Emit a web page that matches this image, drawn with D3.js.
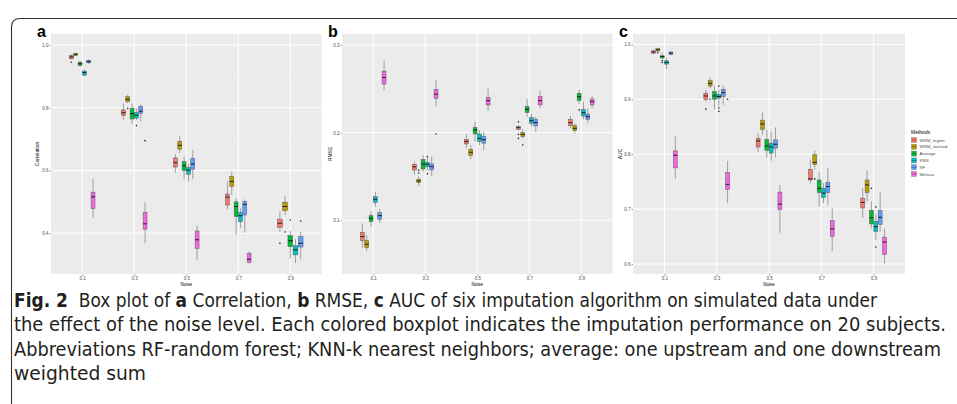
<!DOCTYPE html>
<html>
<head>
<meta charset="utf-8">
<script src="https://cdn.jsdelivr.net/npm/d3@7"></script>
<style>
  body { margin: 0; background: #fff; }
  svg { display: block; }
  .tick-lab { font-family: "Liberation Sans", Arial, sans-serif; font-size: 4.5px; fill: #4d4d4d; }
  .ax-title { font-family: "Liberation Sans", Arial, sans-serif; font-size: 5px; fill: #000; }
  .panel-lab { font-family: "Liberation Sans", Arial, sans-serif; font-size: 16px; font-weight: bold; fill: #000; }
  .caption { font-family: "DejaVu Sans", "Liberation Sans", sans-serif; font-stretch: condensed; font-size: 19px; fill: #231f20; }
</style>
</head>
<body>
<svg id="chart" width="957" height="404"></svg>
<script>
const methods = ["WRM_region", "WRM_stacked", "Average", "KNN", "RF", "Melissa"];
const colors = ["#F8766D", "#B79F00", "#00BA38", "#00BFC4", "#619CFF", "#F564E3"];
const noiseLevels = ["0.1", "0.3", "0.5", "0.7", "0.9"];

// noise, method index, whisker low, q1, median, q3, whisker high
const corrBoxes = [
  ["0.1", 0, 0.954, 0.956, 0.962, 0.967, 0.969],
  ["0.1", 1, 0.965, 0.967, 0.970, 0.973, 0.976],
  ["0.1", 2, 0.930, 0.935, 0.940, 0.945, 0.950],
  ["0.1", 3, 0.900, 0.904, 0.912, 0.917, 0.922],
  ["0.1", 4, 0.939, 0.943, 0.947, 0.951, 0.954],
  ["0.1", 5, 0.449, 0.478, 0.516, 0.531, 0.573],
  ["0.3", 0, 0.761, 0.775, 0.784, 0.793, 0.814],
  ["0.3", 1, 0.814, 0.819, 0.827, 0.835, 0.841],
  ["0.3", 2, 0.748, 0.764, 0.781, 0.798, 0.814],
  ["0.3", 3, 0.761, 0.767, 0.776, 0.785, 0.798],
  ["0.3", 4, 0.756, 0.782, 0.789, 0.804, 0.812],
  ["0.3", 5, 0.368, 0.413, 0.430, 0.467, 0.498],
  ["0.5", 0, 0.593, 0.611, 0.625, 0.640, 0.652],
  ["0.5", 1, 0.655, 0.668, 0.680, 0.693, 0.710],
  ["0.5", 2, 0.572, 0.600, 0.615, 0.628, 0.644],
  ["0.5", 3, 0.565, 0.588, 0.601, 0.609, 0.621],
  ["0.5", 4, 0.572, 0.604, 0.621, 0.639, 0.665],
  ["0.5", 5, 0.315, 0.352, 0.379, 0.407, 0.424],
  ["0.7", 0, 0.476, 0.490, 0.515, 0.525, 0.565],
  ["0.7", 1, 0.522, 0.549, 0.565, 0.581, 0.596],
  ["0.7", 2, 0.395, 0.453, 0.485, 0.500, 0.512],
  ["0.7", 3, 0.416, 0.437, 0.456, 0.466, 0.480],
  ["0.7", 4, 0.402, 0.458, 0.492, 0.501, 0.508],
  ["0.7", 5, 0.304, 0.307, 0.317, 0.336, 0.342],
  ["0.9", 0, 0.405, 0.419, 0.432, 0.445, 0.469],
  ["0.9", 1, 0.458, 0.472, 0.485, 0.499, 0.519],
  ["0.9", 2, 0.320, 0.357, 0.376, 0.392, 0.407],
  ["0.9", 3, 0.305, 0.331, 0.347, 0.360, 0.381],
  ["0.9", 4, 0.317, 0.356, 0.368, 0.389, 0.405]
];
const corrOutliers = [
  ["0.1", 0, 0.945], ["0.3", 1, 0.798], ["0.3", 3, 0.743], ["0.3", 5, 0.695],
  ["0.9", 0, 0.368], ["0.9", 1, 0.404], ["0.9", 2, 0.442], ["0.9", 4, 0.439]
];

const rmseBoxes = [
  ["0.1", 0, 0.0688, 0.0768, 0.0814, 0.0863, 0.0966],
  ["0.1", 1, 0.0650, 0.0688, 0.0726, 0.0768, 0.0833],
  ["0.1", 2, 0.0928, 0.0985, 0.1023, 0.1053, 0.1100],
  ["0.1", 3, 0.1156, 0.1205, 0.1240, 0.1270, 0.1327],
  ["0.1", 4, 0.0973, 0.1010, 0.1053, 0.1087, 0.1125],
  ["0.1", 5, 0.2480, 0.2555, 0.2630, 0.2703, 0.2820],
  ["0.3", 0, 0.1520, 0.1574, 0.1610, 0.1639, 0.1670],
  ["0.3", 1, 0.1390, 0.1430, 0.1449, 0.1468, 0.1500],
  ["0.3", 2, 0.1555, 0.1586, 0.1643, 0.1696, 0.1745],
  ["0.3", 3, 0.1570, 0.1610, 0.1640, 0.1660, 0.1710],
  ["0.3", 4, 0.1500, 0.1574, 0.1612, 0.1643, 0.1726],
  ["0.3", 5, 0.2300, 0.2392, 0.2440, 0.2494, 0.2600],
  ["0.5", 0, 0.1820, 0.1871, 0.1900, 0.1924, 0.1985],
  ["0.5", 1, 0.1696, 0.1738, 0.1776, 0.1810, 0.1860],
  ["0.5", 2, 0.1900, 0.1985, 0.2030, 0.2060, 0.2125],
  ["0.5", 3, 0.1860, 0.1900, 0.1935, 0.1985, 0.2030],
  ["0.5", 4, 0.1800, 0.1880, 0.1920, 0.1960, 0.2010],
  ["0.5", 5, 0.2250, 0.2316, 0.2365, 0.2400, 0.2506],
  ["0.7", 0, 0.2030, 0.2038, 0.2057, 0.2068, 0.2087],
  ["0.7", 1, 0.1935, 0.1954, 0.1980, 0.2000, 0.2038],
  ["0.7", 2, 0.2180, 0.2228, 0.2266, 0.2297, 0.2384],
  ["0.7", 3, 0.2068, 0.2106, 0.2137, 0.2171, 0.2213],
  ["0.7", 4, 0.2011, 0.2076, 0.2114, 0.2152, 0.2180],
  ["0.7", 5, 0.2278, 0.2316, 0.2365, 0.2411, 0.2480],
  ["0.9", 0, 0.2050, 0.2080, 0.2114, 0.2152, 0.2194],
  ["0.9", 1, 0.1992, 0.2023, 0.2050, 0.2080, 0.2106],
  ["0.9", 2, 0.2327, 0.2365, 0.2410, 0.2449, 0.2487],
  ["0.9", 3, 0.2152, 0.2190, 0.2228, 0.2266, 0.2354],
  ["0.9", 4, 0.2106, 0.2152, 0.2182, 0.2213, 0.2278],
  ["0.9", 5, 0.2278, 0.2316, 0.2354, 0.2384, 0.2418]
];
const rmseOutliers = [
  ["0.3", 1, 0.157], ["0.3", 1, 0.154], ["0.3", 3, 0.1726], ["0.3", 3, 0.153], ["0.3", 5, 0.1985],
  ["0.7", 0, 0.2125], ["0.7", 0, 0.198], ["0.7", 0, 0.1935], ["0.7", 1, 0.186],
  ["0.9", 2, 0.226]
];

const aucBoxes = [
  ["0.1", 0, 0.982, 0.984, 0.986, 0.988, 0.991],
  ["0.1", 1, 0.987, 0.988, 0.990, 0.992, 0.994],
  ["0.1", 2, 0.973, 0.975, 0.978, 0.979, 0.985],
  ["0.1", 3, 0.955, 0.964, 0.967, 0.970, 0.975],
  ["0.1", 4, 0.980, 0.982, 0.984, 0.986, 0.988],
  ["0.1", 5, 0.755, 0.775, 0.798, 0.806, 0.833],
  ["0.3", 0, 0.896, 0.900, 0.906, 0.911, 0.917],
  ["0.3", 1, 0.920, 0.924, 0.929, 0.934, 0.940],
  ["0.3", 2, 0.882, 0.900, 0.906, 0.914, 0.924],
  ["0.3", 3, 0.888, 0.902, 0.905, 0.909, 0.917],
  ["0.3", 4, 0.890, 0.905, 0.912, 0.918, 0.925],
  ["0.3", 5, 0.711, 0.736, 0.745, 0.767, 0.788],
  ["0.5", 0, 0.804, 0.813, 0.824, 0.829, 0.839],
  ["0.5", 1, 0.835, 0.845, 0.855, 0.862, 0.876],
  ["0.5", 2, 0.794, 0.807, 0.815, 0.827, 0.844],
  ["0.5", 3, 0.788, 0.802, 0.813, 0.820, 0.841],
  ["0.5", 4, 0.794, 0.811, 0.818, 0.826, 0.849],
  ["0.5", 5, 0.656, 0.699, 0.709, 0.731, 0.744],
  ["0.7", 0, 0.747, 0.753, 0.755, 0.772, 0.790],
  ["0.7", 1, 0.772, 0.781, 0.785, 0.799, 0.807],
  ["0.7", 2, 0.705, 0.730, 0.738, 0.753, 0.768],
  ["0.7", 3, 0.711, 0.721, 0.729, 0.738, 0.747],
  ["0.7", 4, 0.708, 0.730, 0.741, 0.749, 0.775],
  ["0.7", 5, 0.623, 0.650, 0.664, 0.679, 0.702],
  ["0.9", 0, 0.684, 0.702, 0.712, 0.720, 0.738],
  ["0.9", 1, 0.714, 0.730, 0.744, 0.753, 0.770],
  ["0.9", 2, 0.665, 0.673, 0.684, 0.698, 0.714],
  ["0.9", 3, 0.644, 0.659, 0.668, 0.678, 0.690],
  ["0.9", 4, 0.659, 0.672, 0.685, 0.697, 0.730],
  ["0.9", 5, 0.601, 0.617, 0.640, 0.649, 0.665]
];
const aucOutliers = [
  ["0.1", 1, 0.985], ["0.1", 2, 0.970], ["0.1", 2, 0.967],
  ["0.3", 0, 0.882], ["0.3", 1, 0.900], ["0.3", 3, 0.924], ["0.3", 3, 0.884], ["0.3", 3, 0.878], ["0.3", 5, 0.900],
  ["0.7", 1, 0.755], ["0.9", 2, 0.738], ["0.9", 3, 0.704], ["0.9", 3, 0.631]
];

const corrTicks = [0.4, 0.6, 0.8, 1.0];
const rmseTicks = [0.1, 0.2, 0.3];
const aucTicks = [0.6, 0.7, 0.8, 0.9, 1.0];

const captionLines = [
  [["Fig. 2", true], ["  Box plot of ", false], ["a", true], [" Correlation, ", false], ["b", true], [" RMSE, ", false], ["c", true], [" AUC of six imputation algorithm on simulated data under", false]],
  [["the effect of the noise level. Each colored boxplot indicates the imputation performance on 20 subjects.", false]],
  [["Abbreviations RF-random forest; KNN-k nearest neighbors; average: one upstream and one downstream", false]],
  [["weighted sum", false]]
];

const svg = d3.select("#chart");
svg.append("rect").attr("width", 957).attr("height", 404).attr("fill", "#fff");

// figure frame (open to the right and bottom)
svg.append("path")
  .attr("d", "M11.5,404 L11.5,27 Q11.5,18.5 20,18.5 L957,18.5")
  .attr("fill", "none").attr("stroke", "#333").attr("stroke-width", 1.1);

const plotTop = 34, plotBottom = 274;

const panels = [
  { label: "a", title: "Correlation", left: 51, right: 321.5, domain: [0.270, 1.035], ticks: corrTicks, boxes: corrBoxes, outliers: corrOutliers, titleDx: 12 },
  { label: "b", title: "RMSE", left: 342, right: 612.5, domain: [0.0387, 0.3126], ticks: rmseTicks, boxes: rmseBoxes, outliers: rmseOutliers, titleDx: 10.5 },
  { label: "c", title: "AUC", left: 633, right: 905, domain: [0.5818, 1.0188], ticks: aucTicks, boxes: aucBoxes, outliers: aucOutliers, titleDx: 11.5 }
];

panels.forEach(p => {
  const g = svg.append("g");
  const x = d3.scalePoint().domain(noiseLevels).range([p.left, p.right]).padding(0.6);
  const y = d3.scaleLinear().domain(p.domain).range([plotBottom, plotTop]);
  const step = x.step();

  g.append("rect")
    .attr("x", p.left).attr("y", plotTop)
    .attr("width", p.right - p.left).attr("height", plotBottom - plotTop)
    .attr("fill", "#ebebeb");

  // minor grid halfway between major ticks
  const tStep = p.ticks[1] - p.ticks[0];
  const minor = d3.range(p.ticks[0] - tStep / 2, p.domain[1], tStep).filter(v => v > p.domain[0]);
  g.selectAll(".minor").data(minor).enter().append("line")
    .attr("x1", p.left).attr("x2", p.right)
    .attr("y1", d => y(d)).attr("y2", d => y(d))
    .attr("stroke", "#f5f5f5").attr("stroke-width", 0.5);
  g.selectAll(".major").data(p.ticks).enter().append("line")
    .attr("x1", p.left).attr("x2", p.right)
    .attr("y1", d => y(d)).attr("y2", d => y(d))
    .attr("stroke", "#fff").attr("stroke-width", 1);
  g.selectAll(".vgrid").data(noiseLevels).enter().append("line")
    .attr("x1", d => x(d)).attr("x2", d => x(d))
    .attr("y1", plotTop).attr("y2", plotBottom)
    .attr("stroke", "#fff").attr("stroke-width", 1);

  // y axis
  const yAxis = d3.axisLeft(y).tickValues(p.ticks).tickFormat(d3.format(".1f")).tickSize(1.5).tickPadding(1);
  const ya = g.append("g").attr("transform", `translate(${p.left},0)`).call(yAxis);
  ya.select(".domain").remove();
  ya.selectAll("line").attr("stroke", "#333").attr("stroke-width", 0.5);
  ya.selectAll("text").attr("class", "tick-lab");
  ya.attr("font-size", null).attr("font-family", null);

  // x axis
  const xAxis = d3.axisBottom(x).tickSize(1.5).tickPadding(1);
  const xa = g.append("g").attr("transform", `translate(0,${plotBottom})`).call(xAxis);
  xa.select(".domain").remove();
  xa.selectAll("line").attr("stroke", "#333").attr("stroke-width", 0.5);
  xa.selectAll("text").attr("class", "tick-lab");
  xa.attr("font-size", null).attr("font-family", null);

  g.append("text").attr("class", "ax-title")
    .attr("x", (p.left + p.right) / 2).attr("y", plotBottom + 12.3)
    .attr("text-anchor", "middle").style("font-size", "4.5px").text("Noise");
  g.append("text").attr("class", "ax-title")
    .attr("transform", `translate(${p.left - p.titleDx},${(plotTop + plotBottom) / 2}) rotate(-90)`)
    .attr("text-anchor", "middle").text(p.title);
  g.append("text").attr("class", "panel-lab")
    .attr("x", p.left - 14).attr("y", 37).text(p.label);

  // dodge position within a noise group
  const groupCount = {};
  p.boxes.forEach(b => { groupCount[b[0]] = (groupCount[b[0]] || []).concat(b[1]); });
  const xPos = (noise, m) => {
    const list = groupCount[noise];
    const n = list.length;
    const slot = step * 0.5 / n;
    const i = list.indexOf(m);
    return { cx: x(noise) + (i - (n - 1) / 2) * slot, w: slot * 0.9 };
  };

  const bx = g.selectAll(".box").data(p.boxes).enter().append("g");
  bx.append("line")
    .attr("x1", d => xPos(d[0], d[1]).cx).attr("x2", d => xPos(d[0], d[1]).cx)
    .attr("y1", d => y(d[2])).attr("y2", d => y(d[6]))
    .attr("stroke", "#8c8c8c").attr("stroke-width", 0.8);
  bx.append("rect")
    .attr("x", d => xPos(d[0], d[1]).cx - xPos(d[0], d[1]).w / 2)
    .attr("width", d => xPos(d[0], d[1]).w)
    .attr("y", d => y(d[5]))
    .attr("height", d => y(d[3]) - y(d[5]))
    .attr("fill", d => colors[d[1]])
    .attr("stroke", "#5a5a5a").attr("stroke-width", 0.5);
  bx.append("line")
    .attr("x1", d => xPos(d[0], d[1]).cx - xPos(d[0], d[1]).w / 2)
    .attr("x2", d => xPos(d[0], d[1]).cx + xPos(d[0], d[1]).w / 2)
    .attr("y1", d => y(d[4])).attr("y2", d => y(d[4]))
    .attr("stroke", "#111").attr("stroke-width", 0.9);

  g.selectAll(".out").data(p.outliers).enter().append("circle")
    .attr("cx", d => xPos(d[0], d[1]).cx)
    .attr("cy", d => y(d[2]))
    .attr("r", 0.8).attr("fill", "#222");
});

// legend
const lg = svg.append("g");
lg.append("text").attr("class", "ax-title").attr("x", 911).attr("y", 133.5).text("Methods");
methods.forEach((m, i) => {
  const yy = 137.5 + i * 6.8;
  lg.append("rect").attr("x", 911.5).attr("y", yy).attr("width", 5).attr("height", 5)
    .attr("fill", colors[i]).attr("stroke", "#777").attr("stroke-width", 0.4);
  lg.append("line").attr("x1", 911.5).attr("x2", 916.5).attr("y1", yy + 2.5).attr("y2", yy + 2.5)
    .attr("stroke", "#333").attr("stroke-width", 0.4);
  lg.append("text").attr("class", "tick-lab").attr("x", 919.5).attr("y", yy + 4).style("font-size", "4.3px").text(m);
});

// caption
const capX = 14;
const capBase = [306.5, 331, 356, 380];
const capLen = [863, 932, 927, 132];
captionLines.forEach((parts, i) => {
  const t = svg.append("text").attr("class", "caption")
    .attr("x", capX).attr("y", capBase[i])
    .attr("textLength", capLen[i]).attr("lengthAdjust", "spacingAndGlyphs")
    .attr("xml:space", "preserve");
  parts.forEach(pt => {
    t.append("tspan").attr("font-weight", pt[1] ? "bold" : null).text(pt[0]);
  });
});
</script>
</body>
</html>
